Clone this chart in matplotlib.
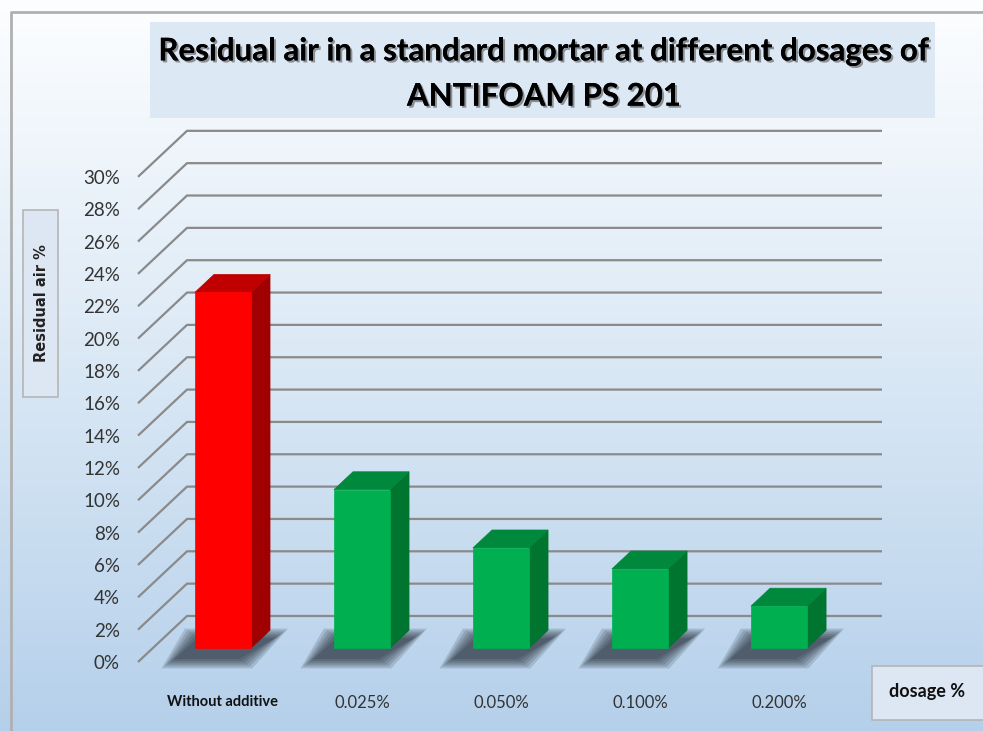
import numpy as np
import matplotlib
matplotlib.use("Agg")
import matplotlib.pyplot as plt
from matplotlib.patches import Polygon, Rectangle
import matplotlib.patheffects as pe

# data
categories = ["Without additive", "0.025%", "0.050%", "0.100%", "0.200%"]
residual_air = [22.0, 9.8, 6.2, 4.9, 2.6]
bar_colors = ["red", "green", "green", "green", "green"]
y_ticks = list(range(0, 31, 2))

W, H = 983, 731
fig = plt.figure(figsize=(W / 100, H / 100), dpi=100)

# background (pixel coords)
bg = fig.add_axes([0, 0, 1, 1])
bg.set_xlim(0, W)
bg.set_ylim(H, 0)
bg.axis("off")
grad = np.linspace(0, 1, 256)
c_top = np.array([0.99, 0.995, 1.0])
c_mid = np.array([0.87, 0.92, 0.965])
c_bot = np.array([0.71, 0.815, 0.92])
cols = np.where(grad[:, None] < 0.45,
                c_top + (c_mid - c_top) * (grad[:, None] / 0.45),
                c_mid + (c_bot - c_mid) * ((grad[:, None] - 0.45) / 0.55))
bg.imshow(cols[:, None, :], extent=[0, W, H, 0], aspect="auto")
bg.plot([11, 11, W], [H, 12, 12], color="#b0b0b0", lw=2)

# title box
bg.add_patch(Rectangle((150, 22), 785, 96, facecolor="#dde8f5", edgecolor="none"))
bg.text(544, 74, "Residual air in a standard mortar at different dosages of\nANTIFOAM PS 201",
        ha="center", va="center", fontsize=22.5, fontweight="bold", family="Lato",
        linespacing=1.75,
        path_effects=[pe.withSimplePatchShadow(offset=(1.5, -1.5), shadow_rgbFace="#555555", alpha=0.6),
                      pe.Normal()])

# y label box
bg.add_patch(Rectangle((23, 210), 35, 187, facecolor="#dde6f3", edgecolor="#b5b5b5", lw=1.2))
bg.text(41, 303, "Residual air %", rotation=90, ha="center", va="center",
        fontsize=10.5, fontweight="bold", color="#222222")

# x label box
bg.add_patch(Rectangle((872, 666), 130, 54, facecolor="#dde6f3", edgecolor="#b5b5b5", lw=1.2))
bg.text(927, 692, "dosage %", ha="center", va="center", fontsize=13,
        fontweight="bold", family="Lato", color="#111111")

# main 3d-ish axes
ax = fig.add_axes([138 / W, (H - 662) / H, (882 - 138) / W, (662 - 128) / H])
X0, XR = -0.505, 4.847
ax.set_xlim(X0, XR)
ax.set_ylim(0, 33.02)
ax.patch.set_visible(False)
for s in ax.spines.values():
    s.set_visible(False)

DX, DY = 0.3525, 2.845   # full depth offset
z0, z1 = 0.3, 0.69       # bar depth range
bw = 0.403

# gridlines
for v in y_ticks:
    ax.plot([X0, X0 + DX, XR], [v, v + DY, v + DY], color="#8a8a8a", lw=1.6,
            clip_on=False, zorder=1, solid_capstyle="butt")

palette = {
    "red": ("#ff0000", "#c00000", "#a00000"),
    "green": ("#00b050", "#00883c", "#007530"),
}

for i, (v, c) in enumerate(zip(residual_air, bar_colors)):
    xl = i - bw / 2
    xr = i + bw / 2
    front, top, side = palette[c]
    # soft shadow, stacked layers shrinking towards the core
    for k in range(6):
        g = 0.11 * (1 - k / 6)
        gy = 0.7 * (1 - k / 6)
        sh = [(xl - 0.13 + z0 * DX - g, z0 * DY - 0.55 - gy),
              (xr - 0.1 + z0 * DX + g, z0 * DY - 0.55 - gy),
              (xr + 0.02 + z1 * DX + g, z1 * DY - 0.6 + gy),
              (xl - 0.1 + z1 * DX - g, z1 * DY - 0.6 + gy)]
        ax.add_patch(Polygon(sh, closed=True, facecolor="#101820", alpha=0.15,
                             edgecolor="none", zorder=2, clip_on=False))
    fpoly = [(xl + z0 * DX, z0 * DY), (xr + z0 * DX, z0 * DY),
             (xr + z0 * DX, v + z0 * DY), (xl + z0 * DX, v + z0 * DY)]
    spoly = [(xr + z0 * DX, z0 * DY), (xr + z1 * DX, z1 * DY),
             (xr + z1 * DX, v + z1 * DY), (xr + z0 * DX, v + z0 * DY)]
    tpoly = [(xl + z0 * DX, v + z0 * DY), (xr + z0 * DX, v + z0 * DY),
             (xr + z1 * DX, v + z1 * DY), (xl + z1 * DX, v + z1 * DY)]
    for poly, col in [(spoly, side), (tpoly, top), (fpoly, front)]:
        ax.add_patch(Polygon(poly, closed=True, facecolor=col, edgecolor=col,
                             lw=0.5, zorder=3, clip_on=False))

ax.set_yticks(y_ticks)
ax.set_yticklabels([f"{v}%" for v in y_ticks], fontsize=13.5, color="#333333", family="Lato")
ax.tick_params(axis="y", length=0, pad=13)
ax.set_xticks([i + z0 * DX for i in range(len(categories))])
ax.set_xticklabels(categories, fontsize=12, color="#333333", family="Lato")
ax.tick_params(axis="x", length=0, pad=24)
lbl0 = ax.get_xticklabels()[0]
lbl0.set_fontweight("bold")
lbl0.set_fontsize(10.5)
lbl0.set_color("#111111")

fig.savefig("out.png", dpi=100)
